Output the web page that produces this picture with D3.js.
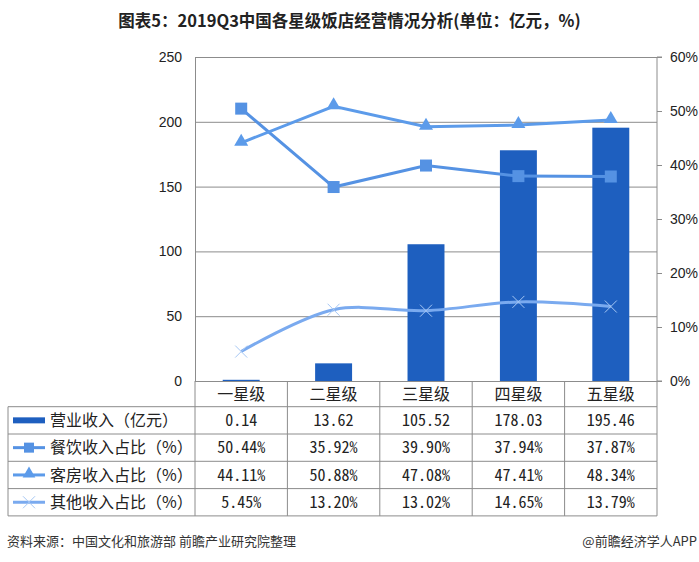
<!DOCTYPE html>
<html><head><meta charset="utf-8">
<script src="https://cdn.jsdelivr.net/npm/d3@7"></script>
<style>
body{margin:0;background:#fff;}
svg{display:block;}
.cjk{font-family:"Noto Sans CJK SC","Noto Sans",sans-serif;}
.num{font-family:"Noto Sans CJK SC",sans-serif;font-feature-settings:"hwid" 1;}
.ax text{font-family:"Liberation Sans",Arial,sans-serif;font-size:14px;fill:#222;}
</style>
</head><body>
<svg id="c" width="699" height="562"></svg>
<script>
const categories = ["一星级","二星级","三星级","四星级","五星级"];
const revenue = [0.14, 13.62, 105.52, 178.03, 195.46];
const foodShare = [50.44, 35.92, 39.90, 37.94, 37.87];
const roomShare = [44.11, 50.88, 47.08, 47.41, 48.34];
const otherShare = [5.45, 13.20, 13.02, 14.65, 13.79];
const revenueLabels = ["0.14","13.62","105.52","178.03","195.46"];
const leftTicks = [0,50,100,150,200,250];
const rightTicks = [0,10,20,30,40,50,60];
const seriesNames = ["营业收入（亿元）","餐饮收入占比（%）","客房收入占比（%）","其他收入占比（%）"];
const title = "图表5：2019Q3中国各星级饭店经营情况分析(单位：亿元，%)";
const source = "资料来源：中国文化和旅游部 前瞻产业研究院整理";
const brand = "@前瞻经济学人APP";

const svg = d3.select("#c");
const L=195, R=657, T=57, B=381;
const tableLeft=8, headerBottom=406.7, rowH=27.3;
const grid="#8c8c8c";
const cBar="#1e5fbf", cFood="#5592e3", cRoom="#5c9bea", cOther="#7aaaef", cX="#a6c7f4";

const x = d3.scaleBand().domain(categories).range([L,R]).paddingInner(0).paddingOuter(0);
const yL = d3.scaleLinear().domain([0,250]).range([B,T]);
const yR = d3.scaleLinear().domain([0,60]).range([B,T]);
const cx = d => x(d)+x.bandwidth()/2;

// title
svg.append("text").attr("class","cjk").attr("x",349.5).attr("y",27)
  .attr("text-anchor","middle").attr("font-size","16.5px").attr("font-weight","bold")
  .attr("fill","#222").text(title);

// left axis with gridlines
const gL = svg.append("g").attr("class","ax").attr("transform",`translate(${L},0)`)
  .call(d3.axisLeft(yL).tickValues(leftTicks).tickSize(-(R-L)).tickPadding(13).tickFormat(d3.format("d")));
gL.selectAll("line").attr("stroke",grid);
gL.select(".domain").attr("stroke",grid);

// bars
svg.append("g").selectAll("rect").data(categories).join("rect")
  .attr("x",d=>cx(d)-x.bandwidth()*0.2)
  .attr("width",x.bandwidth()*0.4)
  .attr("y",(d,i)=>Math.min(yL(revenue[i]),B-1.2))
  .attr("height",(d,i)=>Math.max(B-yL(revenue[i]),1.2))
  .attr("fill",cBar);

// right axis
const gR = svg.append("g").attr("class","ax").attr("transform",`translate(${R},0)`)
  .call(d3.axisRight(yR).tickValues(rightTicks).tickSize(5).tickPadding(8).tickFormat(d=>d+"%"));
gR.selectAll("line").attr("stroke",grid);
gR.select(".domain").attr("stroke",grid).attr("d",`M5,${T}H0V${B}H5`);

// lines
const lineStraight = d3.line().x((d,i)=>cx(categories[i])).y(d=>yR(d));
const lineSmooth = d3.line().x((d,i)=>cx(categories[i])).y(d=>yR(d)).curve(d3.curveCatmullRom.alpha(0.5));

svg.append("path").attr("d",lineSmooth(otherShare)).attr("fill","none").attr("stroke",cOther).attr("stroke-width",3);
svg.append("path").attr("d",lineStraight(foodShare)).attr("fill","none").attr("stroke",cFood).attr("stroke-width",3);
svg.append("path").attr("d",lineStraight(roomShare)).attr("fill","none").attr("stroke",cRoom).attr("stroke-width",3);

const sq = 12;
svg.append("g").selectAll("rect").data(foodShare).join("rect")
  .attr("x",(d,i)=>cx(categories[i])-sq/2).attr("y",d=>yR(d)-sq/2)
  .attr("width",sq).attr("height",sq).attr("fill",cFood);
const tri = d3.symbol().type(d3.symbolTriangle).size(85);
svg.append("g").selectAll("path").data(roomShare).join("path")
  .attr("transform",(d,i)=>`translate(${cx(categories[i])},${yR(d)-1})`)
  .attr("d",tri()).attr("fill",cRoom);
const xs=6;
svg.append("g").selectAll("path").data(otherShare).join("path")
  .attr("d",(d,i)=>{const X=cx(categories[i]),Y=yR(d);return `M${X-xs},${Y-xs}L${X+xs},${Y+xs}M${X-xs},${Y+xs}L${X+xs},${Y-xs}`;})
  .attr("stroke",cX).attr("stroke-width",1).attr("fill","none");

// table
const tg = svg.append("g");
const rowTops = d3.range(5).map(i=>headerBottom+i*rowH);
// horizontal lines
rowTops.forEach(y=>tg.append("line").attr("x1",tableLeft).attr("x2",R).attr("y1",y).attr("y2",y).attr("stroke",grid));
// vertical lines
tg.append("line").attr("x1",tableLeft).attr("x2",tableLeft).attr("y1",headerBottom).attr("y2",rowTops[4]).attr("stroke",grid);
const bounds = categories.map(c=>x(c)).concat([R]);
bounds.forEach(bx=>tg.append("line").attr("x1",bx).attr("x2",bx).attr("y1",B).attr("y2",rowTops[4]).attr("stroke",grid));

// header labels
tg.selectAll("text.h").data(categories).join("text").attr("class","cjk h")
  .attr("x",d=>cx(d)).attr("y",(B+headerBottom)/2).attr("dy","0.36em")
  .attr("text-anchor","middle").attr("font-size","16px").attr("fill","#222").text(d=>d);

const rowsVals = [
  revenueLabels,
  foodShare.map(v=>v.toFixed(2)+"%"),
  roomShare.map(v=>v.toFixed(2)+"%"),
  otherShare.map(v=>v.toFixed(2)+"%")
];
rowsVals.forEach((vals,r)=>{
  const ym = rowTops[r]+rowH/2;
  tg.append("g").selectAll("text").data(vals).join("text").attr("class","num")
    .attr("x",(d,i)=>cx(categories[i])).attr("y",ym).attr("dy","0.36em")
    .attr("text-anchor","middle").attr("font-size","16px").attr("fill","#222").text(d=>d);
  tg.append("text").attr("class","cjk").attr("x",50).attr("y",ym).attr("dy","0.36em")
    .attr("font-size","16px").attr("fill","#222").text(seriesNames[r]);
  // legend keys
  const kx1=13,kx2=45,kxm=29;
  if(r===0){
    tg.append("rect").attr("x",kx1).attr("y",ym-3).attr("width",kx2-kx1).attr("height",6).attr("fill",cBar);
  } else {
    const col=[null,cFood,cRoom,cOther][r];
    tg.append("line").attr("x1",kx1).attr("x2",kx2).attr("y1",ym).attr("y2",ym).attr("stroke",col).attr("stroke-width",3);
    if(r===1) tg.append("rect").attr("x",kxm-5).attr("y",ym-5).attr("width",10).attr("height",10).attr("fill",cFood);
    if(r===2) tg.append("path").attr("transform",`translate(${kxm},${ym-1})`).attr("d",d3.symbol().type(d3.symbolTriangle).size(70)()).attr("fill",cRoom);
    if(r===3) tg.append("path").attr("d",`M${kxm-6},${ym-6}L${kxm+6},${ym+6}M${kxm-6},${ym+6}L${kxm+6},${ym-6}`).attr("stroke",cX).attr("stroke-width",1);
  }
});

// footer
svg.append("text").attr("class","cjk").attr("x",7).attr("y",546).attr("font-size","13px").attr("fill","#333").text(source);
svg.append("text").attr("class","cjk").attr("x",697).attr("y",546).attr("text-anchor","end").attr("font-size","13px").attr("fill","#333").text(brand);
</script>
</body></html>
